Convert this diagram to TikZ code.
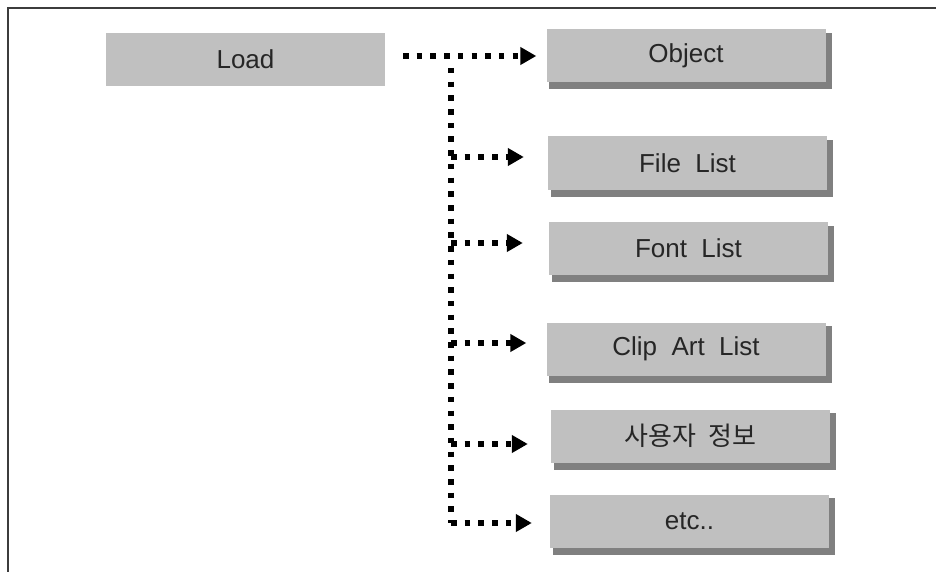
\documentclass[tikz,border=0pt]{standalone}
\usepackage{fontspec}
\setmainfont{Liberation Sans}[WordSpace=2]
\newfontfamily\kofont{Noto Sans CJK KR}[WordSpace=2]
\usetikzlibrary{arrows.meta}
\definecolor{boxfill}{HTML}{C0C0C0}
\definecolor{shadowc}{HTML}{808080}
\definecolor{framec}{HTML}{3C3C3C}
\tikzset{
  itembox/.style={fill=boxfill, draw=none, minimum width=279pt, minimum height=53pt,
    inner sep=0pt, anchor=center, font=\fontsize{26}{30}\selectfont, text=black!85},
  dotline/.style={line width=5.5pt, line cap=butt, dash pattern=on 5.5pt off 8.2pt, black},
  dotarrow/.style={dotline, -{Triangle[length=16pt,width=17pt]}},
  frameline/.style={draw=framec, line width=1.3pt}
}
\newcommand{\boxshadow}[1]{\fill[shadowc] ([shift={(3,4)}]#1.north west) rectangle ([shift={(6,7)}]#1.south east);}
\begin{document}
\begin{tikzpicture}[x=1pt,y=-1pt]
\useasboundingbox (0,0) rectangle (936,572);
\draw[frameline] (8,572) -- (8,8) -- (936,8);

% nodes
\node[itembox] (load) at (245.5,59.5) {Load};
\node[itembox] (obj) at (686,55.5) {Object};
\node[itembox] (file) at (687.5,163) {File List};
\node[itembox] (font) at (688.5,248.5) {Font List};
\node[itembox] (clip) at (686,349) {Clip Art List};
\node[itembox] (user) at (690.5,436) {\kofont 사용자 정보};
\node[itembox] (etc) at (689.5,521) {etc..};

% shadows, then the boxes again on top
\foreach \n in {obj,file,font,clip,user,etc}{\boxshadow{\n}}
\node[itembox] at (obj) {Object};
\node[itembox] at (file) {File List};
\node[itembox] at (font) {Font List};
\node[itembox] at (clip) {Clip Art List};
\node[itembox] at (user) {\kofont 사용자 정보};
\node[itembox] at (etc) {etc..};

% connector coordinates
\coordinate (hstart) at (403,56);
\coordinate (vtop) at (451,68);
\coordinate (b1) at (451,157);
\coordinate (b2) at (451,243);
\coordinate (b3) at (451,343);
\coordinate (b4) at (451,444);
\coordinate (b5) at (451,523);

\draw[dotarrow, shorten >=10pt] (hstart) -- (hstart -| obj.west);
\draw[dotline] (vtop) -- (b5);
\draw[dotarrow, shorten >=24pt] (b1) -- (b1 -| file.west);
\draw[dotarrow, shorten >=26pt] (b2) -- (b2 -| font.west);
\draw[dotarrow, shorten >=20pt] (b3) -- (b3 -| clip.west);
\draw[dotarrow, shorten >=23pt] (b4) -- (b4 -| user.west);
\draw[dotarrow, shorten >=18pt] (b5) -- (b5 -| etc.west);
\end{tikzpicture}
\end{document}
